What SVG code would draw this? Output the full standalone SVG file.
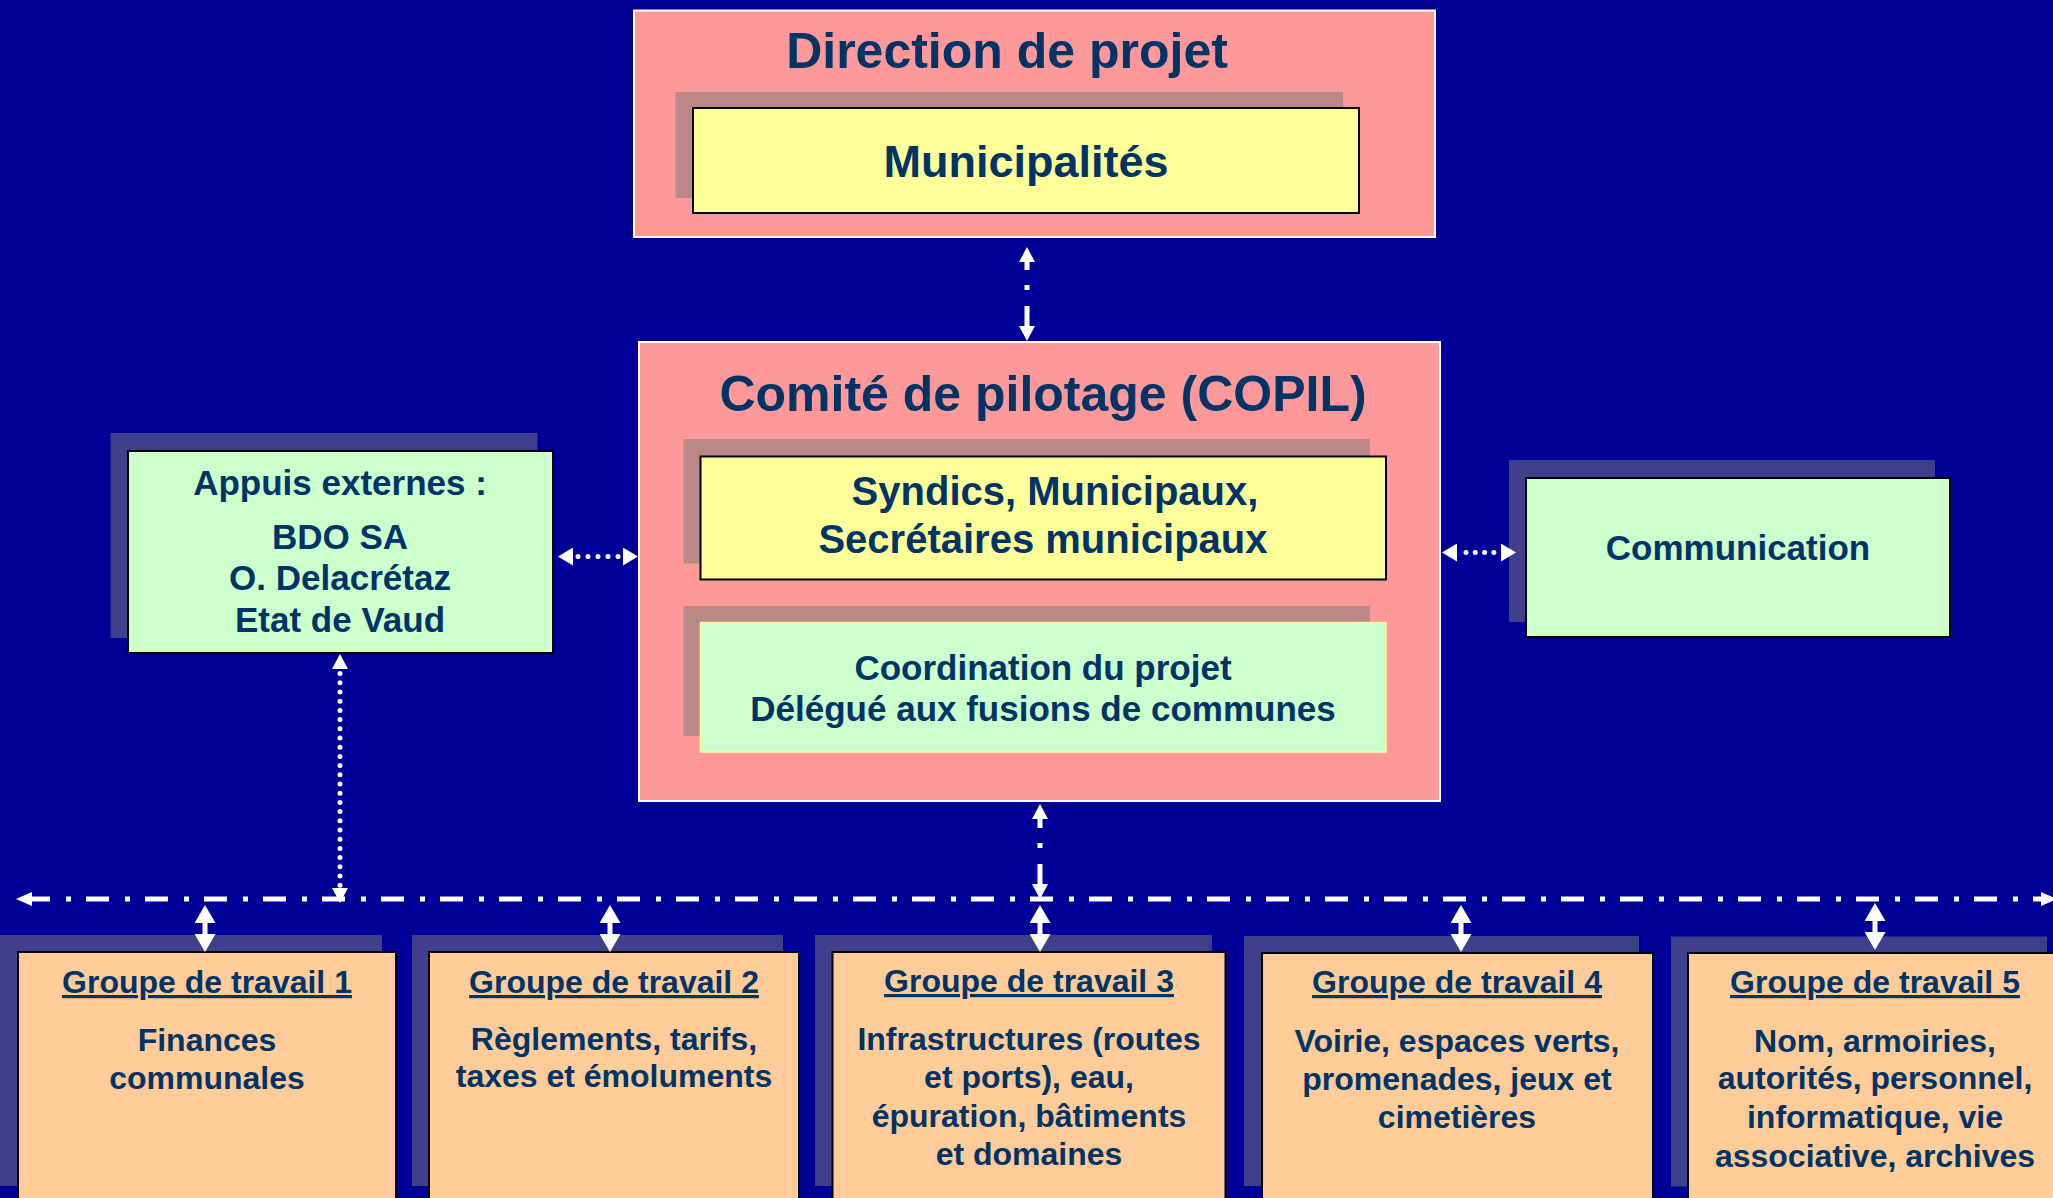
<svg xmlns="http://www.w3.org/2000/svg" width="2053" height="1198" viewBox="0 0 2053 1198">
<defs>
<style>
.t{font-family:"Liberation Sans",Arial,Helvetica,sans-serif;font-weight:bold;fill:#003366;text-anchor:middle}
.u{text-decoration:underline}
.sh{fill:#3F3F8C}
.shp{fill:#BB8888}
.pink{fill:#FF9999;stroke:#FFFFFF;stroke-width:2}
.yel{fill:#FFFF99;stroke:#000000;stroke-width:2}
.grn{fill:#CCFFCC;stroke:#000000;stroke-width:2}
.grn2{fill:#CCFFCC;stroke:#FFFF99;stroke-width:1.5}
.org{fill:#FFCC99;stroke:#000000;stroke-width:2}
.c{fill:none;stroke:#FFFFFF;stroke-width:5}
.dot{stroke-linecap:round}
.ah{fill:#FFFFFF}
</style>
<marker id="a1" viewBox="0 -8 15 16" markerWidth="15" markerHeight="16" refX="0" refY="0" markerUnits="userSpaceOnUse" orient="auto-start-reverse"><path class="ah" d="M0,-8 L15,0 L0,8 z"/></marker>
<marker id="a2" viewBox="0 -7 16 14" markerWidth="16" markerHeight="14" refX="0" refY="0" markerUnits="userSpaceOnUse" orient="auto-start-reverse"><path class="ah" d="M0,-7 L16,0 L0,7 z"/></marker>
<marker id="a3" viewBox="0 -9 15 18" markerWidth="15" markerHeight="18" refX="0" refY="0" markerUnits="userSpaceOnUse" orient="auto-start-reverse"><path class="ah" d="M0,-9 L15,0 L0,9 z"/></marker>
<marker id="a4" viewBox="0 -10.5 18 21" markerWidth="18" markerHeight="21" refX="0" refY="0" markerUnits="userSpaceOnUse" orient="auto-start-reverse"><path class="ah" d="M0,-10.5 L18,0 L0,10.5 z"/></marker>
</defs>
<rect x="0" y="0" width="2053" height="1198" fill="#000099"/>

<g id="direction">
<rect class="pink" x="634" y="10.5" width="801" height="226.5"/>
<text class="t" x="1007" y="68" font-size="50">Direction de projet</text>
<rect class="shp" x="675.5" y="92" width="667.5" height="106"/>
<rect class="yel" x="693" y="108" width="666" height="105"/>
<text class="t" x="1026" y="177" font-size="45">Municipalités</text>
</g>

<g id="copil">
<rect class="pink" x="639" y="342" width="801" height="459"/>
<text class="t" x="1043" y="411" font-size="50">Comité de pilotage (COPIL)</text>
<rect class="shp" x="683.5" y="439" width="686.5" height="124.5"/>
<rect class="yel" x="700.5" y="456.5" width="685.5" height="123"/>
<text class="t" x="1055" y="505" font-size="40">Syndics, Municipaux,</text>
<text class="t" x="1043" y="553" font-size="40">Secrétaires municipaux</text>
<rect class="shp" x="683.5" y="606" width="686.5" height="130"/>
<rect class="grn2" x="700.5" y="622.5" width="685.5" height="129.5"/>
<text class="t" x="1043" y="680" font-size="35">Coordination du projet</text>
<text class="t" x="1043" y="721" font-size="35">Délégué aux fusions de communes</text>
</g>

<g id="appuis">
<rect class="sh" x="110.5" y="433" width="427" height="205"/>
<rect class="grn" x="128" y="451" width="425" height="202"/>
<text class="t" x="340" y="495" font-size="35">Appuis externes :</text>
<text class="t" x="340" y="549" font-size="35">BDO SA</text>
<text class="t" x="340" y="590" font-size="35">O. Delacrétaz</text>
<text class="t" x="340" y="632" font-size="35">Etat de Vaud</text>
</g>

<g id="communication">
<rect class="sh" x="1509" y="460" width="426" height="162"/>
<rect class="grn" x="1526" y="478" width="424" height="159"/>
<text class="t" x="1738" y="560" font-size="35">Communication</text>
</g>

<g id="gt1">
<rect class="sh" x="0" y="935" width="382" height="251"/>
<rect class="org" x="18" y="952" width="378" height="260"/>
<text class="t u" x="207" y="993" font-size="32">Groupe de travail 1</text>
<text class="t" x="207" y="1051" font-size="32">Finances</text>
<text class="t" x="207" y="1089" font-size="32">communales</text>
</g>

<g id="gt2">
<rect class="sh" x="412" y="935" width="371" height="251"/>
<rect class="org" x="429" y="952" width="370" height="260"/>
<text class="t u" x="614" y="993" font-size="32">Groupe de travail 2</text>
<text class="t" x="614" y="1050" font-size="32">Règlements, tarifs,</text>
<text class="t" x="614" y="1087" font-size="32">taxes et émoluments</text>
</g>

<g id="gt3">
<rect class="sh" x="815" y="935" width="397" height="251"/>
<rect class="org" x="832.5" y="952" width="393" height="260"/>
<text class="t u" x="1029" y="992" font-size="32">Groupe de travail 3</text>
<text class="t" x="1029" y="1050" font-size="32">Infrastructures (routes</text>
<text class="t" x="1029" y="1088" font-size="32">et ports), eau,</text>
<text class="t" x="1029" y="1127" font-size="32">épuration, bâtiments</text>
<text class="t" x="1029" y="1165" font-size="32">et domaines</text>
</g>

<g id="gt4">
<rect class="sh" x="1244" y="936" width="395" height="250"/>
<rect class="org" x="1262" y="953" width="391" height="260"/>
<text class="t u" x="1457" y="993" font-size="32">Groupe de travail 4</text>
<text class="t" x="1457" y="1052" font-size="32">Voirie, espaces verts,</text>
<text class="t" x="1457" y="1090" font-size="32">promenades, jeux et</text>
<text class="t" x="1457" y="1128" font-size="32">cimetières</text>
</g>

<g id="gt5">
<rect class="sh" x="1671" y="936.5" width="376" height="250"/>
<rect class="org" x="1688" y="953" width="380" height="260"/>
<text class="t u" x="1875" y="993" font-size="32">Groupe de travail 5</text>
<text class="t" x="1875" y="1052" font-size="32">Nom, armoiries,</text>
<text class="t" x="1875" y="1089" font-size="32">autorités, personnel,</text>
<text class="t" x="1875" y="1128" font-size="32">informatique, vie</text>
<text class="t" x="1875" y="1167" font-size="32">associative, archives</text>
</g>

<g id="connectors">
<path class="c" d="M1027,326 L1027,262" stroke-dasharray="20 16 5 15" marker-start="url(#a1)" marker-end="url(#a1)"/>
<path class="c" d="M1040,884 L1040,819" stroke-dasharray="20 16 5 15" marker-start="url(#a1)" marker-end="url(#a1)"/>
<path class="c" d="M32,899 L2041,899" stroke-dasharray="23 16 5 15" stroke-dashoffset="5" marker-start="url(#a2)" marker-end="url(#a2)"/>
<path class="c dot" d="M573,556.5 L623,556.5" stroke-dasharray="0 10" stroke-dashoffset="5" marker-start="url(#a3)" marker-end="url(#a3)"/>
<path class="c dot" d="M1457,552.5 L1501,552.5" stroke-dasharray="0 9.3" stroke-dashoffset="0.3" marker-start="url(#a3)" marker-end="url(#a3)"/>
<path class="c dot" d="M340,669 L340,888" stroke-dasharray="0 9.2" stroke-dashoffset="4.6" marker-start="url(#a1)" marker-end="url(#a1)"/>
<path class="c" stroke-width="8" d="M205,923 L205,934" marker-start="url(#a4)" marker-end="url(#a4)"/>
<path class="c" stroke-width="8" d="M610,923 L610,934" marker-start="url(#a4)" marker-end="url(#a4)"/>
<path class="c" stroke-width="8" d="M1040,923 L1040,934" marker-start="url(#a4)" marker-end="url(#a4)"/>
<path class="c" stroke-width="8" d="M1461,923 L1461,934" marker-start="url(#a4)" marker-end="url(#a4)"/>
<path class="c" stroke-width="8" d="M1875,921 L1875,932" marker-start="url(#a4)" marker-end="url(#a4)"/>
</g>
</svg>
